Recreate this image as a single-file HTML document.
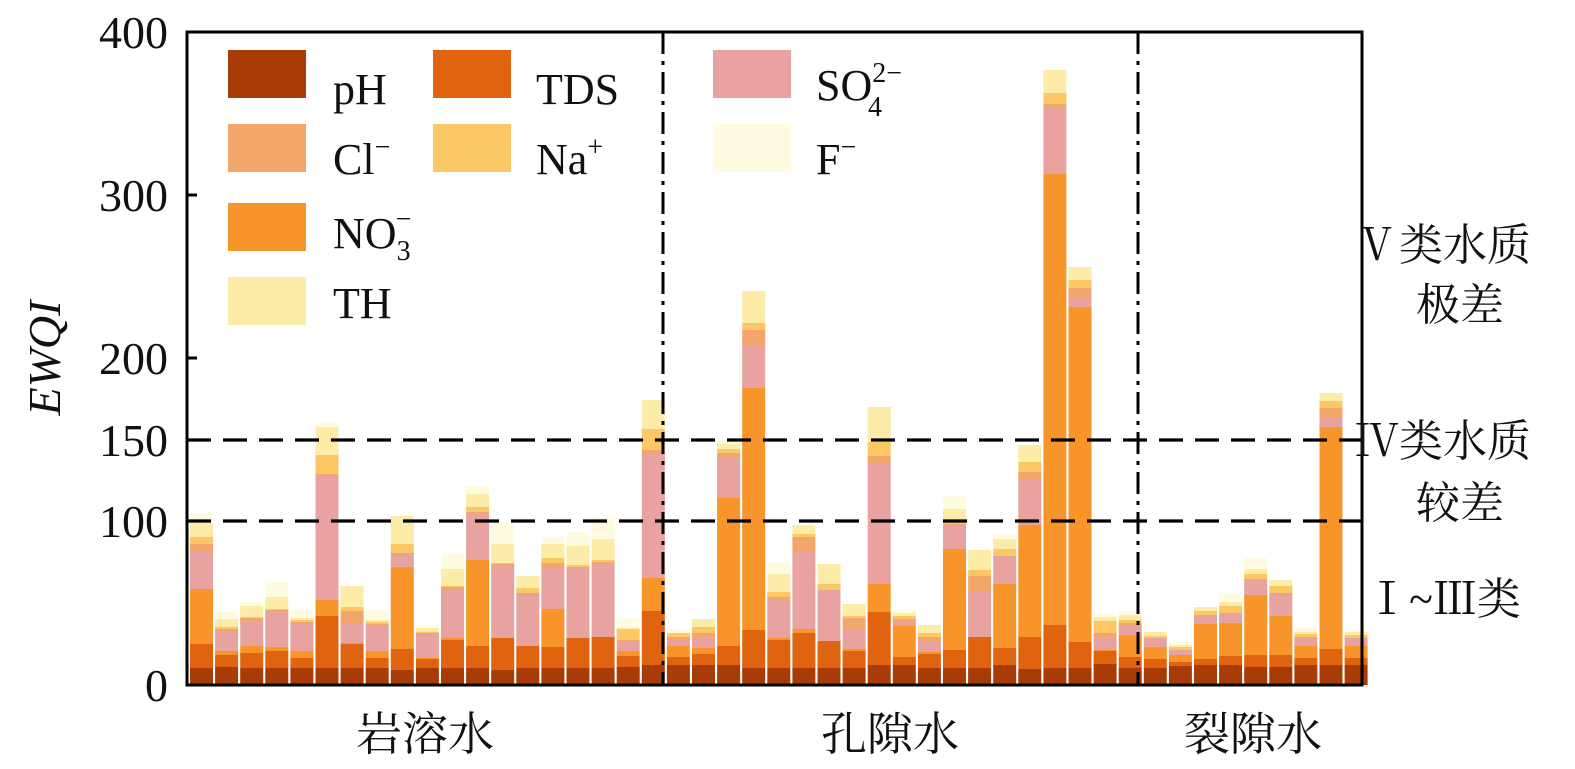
<!DOCTYPE html>
<html><head><meta charset="utf-8"><style>
html,body{margin:0;padding:0;background:#fff;}
svg text{font-family:"Liberation Serif","Noto Serif CJK SC","Noto Sans CJK SC",serif;fill:#111;}
</style></head><body>
<svg id="s" width="1575" height="764" xmlns="http://www.w3.org/2000/svg">
<g id="bars"></g>
<line x1="187" y1="440" x2="1362" y2="440" stroke="#000" stroke-width="3.2" stroke-dasharray="24,12"/>
<line x1="187" y1="521" x2="1362" y2="521" stroke="#000" stroke-width="3.2" stroke-dasharray="24,12"/>
<line x1="663" y1="32" x2="663" y2="685" stroke="#000" stroke-width="3" stroke-dasharray="22,7,4,7"/>
<line x1="1138" y1="32" x2="1138" y2="685" stroke="#000" stroke-width="3" stroke-dasharray="22,7,4,7"/>
<rect x="187" y="32" width="1175" height="653" fill="none" stroke="#000" stroke-width="3"/>
<g stroke="#000" stroke-width="3">
<line x1="187" y1="195" x2="197" y2="195"/><line x1="187" y1="358" x2="197" y2="358"/>
<line x1="187" y1="440" x2="197" y2="440"/><line x1="187" y1="521" x2="197" y2="521"/>
</g>
<g font-size="46" text-anchor="end">
<text x="168" y="48">400</text><text x="168" y="211">300</text><text x="168" y="374">200</text>
<text x="168" y="456">150</text><text x="168" y="537">100</text><text x="168" y="701">0</text>
</g>
<text transform="translate(60,358) rotate(-90)" font-size="46" font-style="italic" text-anchor="middle">EWQI</text>
<rect x="228" y="50" width="78" height="48" fill="#A83C06"/><text x="333" y="104" font-size="44">pH</text>
<rect x="433" y="50" width="78" height="48" fill="#E0640F"/><text x="536" y="104" font-size="44">TDS</text>
<rect x="713" y="50" width="78" height="48" fill="#E8A3A0"/><text x="816" y="100" font-size="44">SO<tspan font-size="28" dy="-18">2−</tspan><tspan font-size="28" dx="-34" dy="34">4</tspan></text>
<rect x="228" y="124" width="78" height="48" fill="#F2A66B"/><text x="333" y="174" font-size="44">Cl<tspan font-size="28" dy="-18">−</tspan></text>
<rect x="433" y="124" width="78" height="48" fill="#FCC865"/><text x="536" y="174" font-size="44">Na<tspan font-size="28" dy="-18">+</tspan></text>
<rect x="713" y="124" width="78" height="48" fill="#FFFBE0"/><text x="816" y="174" font-size="44">F<tspan font-size="28" dy="-18">−</tspan></text>
<rect x="228" y="203" width="78" height="48" fill="#F7952A"/><text x="333" y="248" font-size="44">NO<tspan font-size="28" dy="12">3</tspan><tspan font-size="28" dx="-15" dy="-32">−</tspan></text>
<rect x="228" y="277" width="78" height="48" fill="#FDEBA8"/><text x="333" y="318" font-size="44">TH</text>
<g font-size="44" text-anchor="middle">
<text x="1443" y="260">Ⅴ类水质</text><text x="1460" y="320">极差</text>
<text x="1443" y="456">Ⅳ类水质</text><text x="1460" y="518">较差</text>
<text x="1443" y="614">Ⅰ~Ⅲ类</text>
</g>
<g font-size="46" text-anchor="middle">
<text x="425" y="750">岩溶水</text><text x="890" y="750">孔隙水</text><text x="1253" y="750">裂隙水</text>
</g>
</svg>
<script>
var C=["#A83C06","#E0640F","#F7952A","#E8A3A0","#F2A66B","#FCC865","#FDEBA8","#FFFBE0"];
var D=[
[668,644,589,551,544,537,523,514],[667,655,651,631,629,627,619,612],[668,653,646,621,618,617,606,602],
[668,651,647,612,610,609,597,581],[668,658,651,624,622,620,618,609],[668,616,600,475,474,455,427,423],
[668,644,643,623,611,607,586,586],[668,658,651,626,624,622,620,610],[670,649,567,554,553,544,516,516],
[668,659,658,634,633,632,628,625],[668,640,638,589,587,586,569,553],[668,646,560,513,512,507,494,486],
[670,638,638,566,564,563,544,523],[668,646,646,594,593,588,576,576],[668,647,609,567,563,558,544,537],
[668,638,638,568,567,565,546,532],[668,637,637,563,562,560,539,517],[667,656,651,641,640,629,628,619],
[665,611,578,453,450,429,400,400],
[665,657,646,639,637,633,633,629],[665,654,648,637,633,627,619,619],[665,646,498,458,453,449,444,440],
[668,630,388,346,330,323,291,291],[668,640,638,599,597,592,574,563],[668,633,629,551,537,534,525,525],
[668,641,641,590,590,584,564,564],[668,651,649,629,618,616,604,604],[665,612,584,463,456,442,407,407],
[665,657,626,621,619,616,613,610],[668,654,652,642,637,633,625,625],[668,650,549,525,524,521,509,496],
[668,637,637,592,576,570,550,550],[665,648,584,556,556,549,539,534],[669,637,525,479,472,462,445,445],
[668,625,174,108,104,93,70,70],[668,642,307,297,288,280,267,267],[664,651,650,637,633,621,617,613],
[668,657,635,625,623,620,615,611],
[668,659,647,638,638,636,632,632],[666,662,655,650,650,647,645,642],[665,659,624,615,615,611,607,607],
[665,656,623,613,613,606,602,593],[667,655,595,579,579,574,569,558],[667,655,616,593,593,586,580,580],
[665,658,646,638,637,634,632,628],[665,649,427,418,408,401,393,393],[665,658,646,638,638,635,632,631]];
var g=document.getElementById("bars"),h="";
D.forEach(function(b,i){var x=(190+i*25.1).toFixed(1),prev=685;
for(var k=0;k<8;k++){var t=b[k];if(prev-t>0){h+='<rect x="'+x+'" y="'+t+'" width="23" height="'+(prev-t)+'" fill="'+C[k]+'"/>';}prev=Math.min(prev,t);}});
g.innerHTML=h;
</script>
</body></html>
